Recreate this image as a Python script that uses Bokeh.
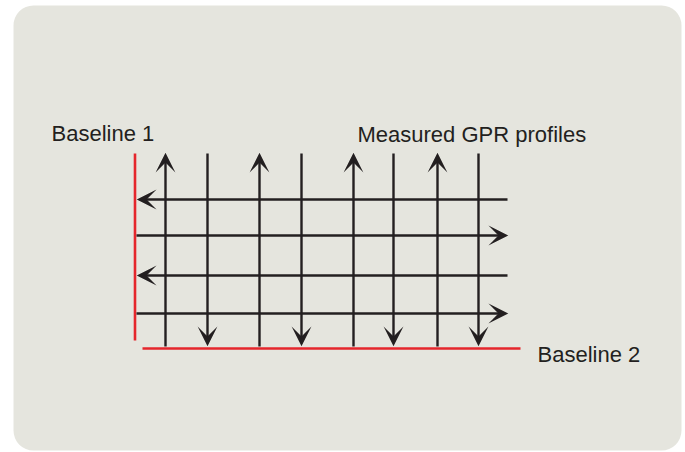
from bokeh.plotting import figure
from bokeh.models import Range1d, ColumnDataSource, Arrow, VeeHead, BoxAnnotation
from bokeh.core.properties import value
from bokeh.embed import file_html
from bokeh.resources import INLINE

# ---- data (page-pixel coordinates, y grows downward) ----
profile_x = [165, 207, 259, 301, 353, 393, 437, 478]          # vertical GPR profiles
profile_dir = ["up", "down", "up", "down", "up", "down", "up", "down"]
profile_top = 154
profile_bottom = 346

transect_y = [199, 235, 275, 313]                              # horizontal GPR profiles
transect_dir = ["left", "right", "left", "right"]
transect_left = 137
transect_right = 507

baseline1_x = 134.5
baseline1_y = [153, 340]
baseline2_y = 348
baseline2_x = [142, 520]

label_text = ["Baseline 1", "Measured GPR profiles", "Baseline 2"]
label_x = [51, 357, 537]
label_y = [133, 134, 354]

W, H = 685, 452
INK = "#231F20"
RED = "#E5262C"

p = figure(width=W, height=H, output_backend="svg", toolbar_location=None,
           x_range=Range1d(0, W), y_range=Range1d(H, 0),
           x_axis_location=None, y_axis_location=None,
           min_border=0, min_border_left=0, min_border_right=0,
           min_border_top=0, min_border_bottom=0)
p.grid.visible = False
p.outline_line_color = None
p.background_fill_color = "white"
p.border_fill_color = "white"

box = BoxAnnotation(left=13, right=681, top=5, bottom=450,
                    fill_color="#E5E5DE", fill_alpha=1, line_alpha=0,
                    border_radius=20, level="underlay")
p.add_layout(box)

# baselines
p.line([baseline1_x, baseline1_x], baseline1_y, line_color=RED, line_width=2.6)
p.line(baseline2_x, [baseline2_y, baseline2_y], line_color=RED, line_width=2.6)

# profiles
xs0, ys0, xs1, ys1 = [], [], [], []
for x, d in zip(profile_x, profile_dir):
    if d == "up":
        xs0.append(x); ys0.append(profile_bottom); xs1.append(x); ys1.append(profile_top)
    else:
        xs0.append(x); ys0.append(profile_top - 1); xs1.append(x); ys1.append(profile_bottom - 2)
for y, d in zip(transect_y, transect_dir):
    if d == "left":
        xs0.append(transect_right); ys0.append(y); xs1.append(transect_left + 1); ys1.append(y)
    else:
        xs0.append(transect_left - 1); ys0.append(y); xs1.append(transect_right - 1); ys1.append(y)

src = ColumnDataSource(dict(x0=xs0, y0=ys0, x1=xs1, y1=ys1))
p.add_layout(Arrow(source=src, x_start="x0", y_start="y0", x_end="x1", y_end="y1",
                   line_color=INK, line_width=2.4,
                   end=VeeHead(size=14, fill_color=INK, fill_alpha=1,
                               line_color=INK, line_width=1.6, line_join="miter")))

lsrc = ColumnDataSource(dict(x=label_x, y=label_y, t=label_text))
p.text(x="x", y="y", text="t", source=lsrc, text_font=value("Liberation Sans"),
       text_font_size="22px", text_color=INK, text_align="left",
       text_baseline="alphabetic")

open("out.html", "w").write(file_html(p, INLINE))
